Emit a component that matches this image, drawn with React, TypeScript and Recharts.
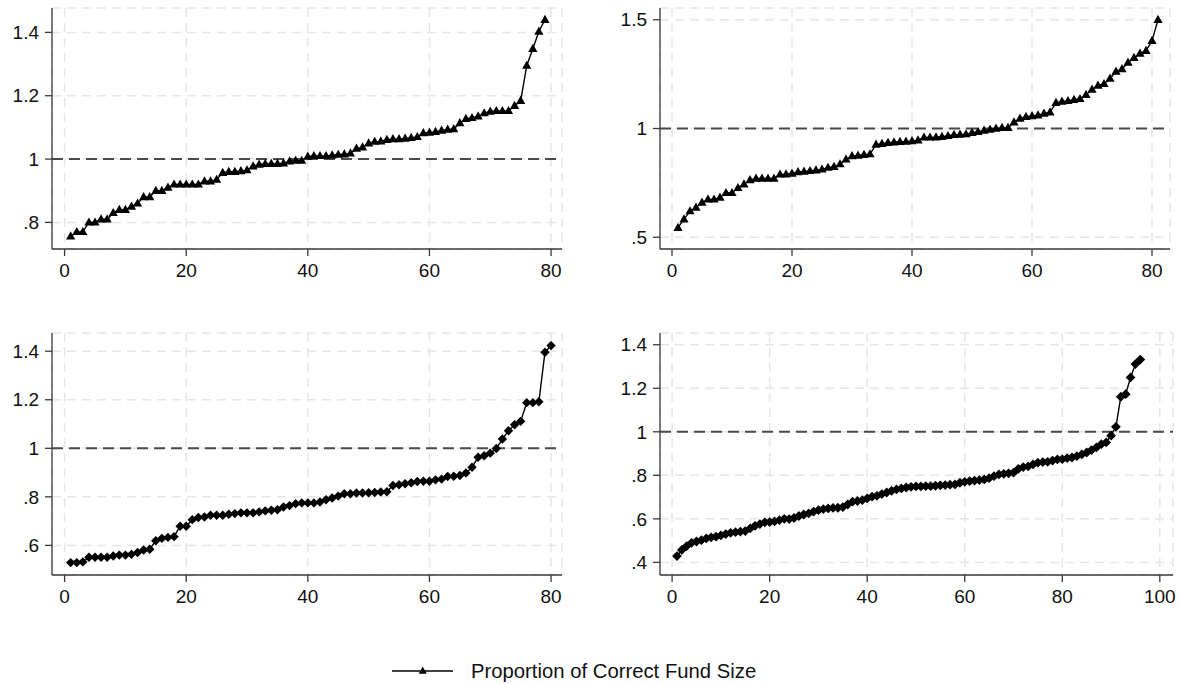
import React from 'react';
import { LineChart, Line, XAxis, YAxis, CartesianGrid, ReferenceLine } from 'recharts';

// sorted ratios, one array per panel (x = rank 1..n)
const panelA = [
    0.756, 0.77, 0.77, 0.8, 0.8, 0.81, 0.81, 0.83, 0.84, 0.84,
    0.85, 0.86, 0.88, 0.88, 0.9, 0.9, 0.91, 0.92, 0.92, 0.92,
    0.92, 0.92, 0.93, 0.93, 0.935, 0.957, 0.96, 0.96, 0.962, 0.965,
    0.977, 0.983, 0.985, 0.985, 0.985, 0.987, 0.993, 0.995, 0.995, 1.008,
    1.01, 1.01, 1.01, 1.012, 1.014, 1.015, 1.018, 1.033, 1.037, 1.05,
    1.055, 1.056, 1.061, 1.063, 1.063, 1.065, 1.067, 1.07, 1.082, 1.084,
    1.086, 1.09, 1.093, 1.095, 1.114, 1.127, 1.13, 1.135, 1.145, 1.15,
    1.152, 1.152, 1.152, 1.168, 1.184, 1.295, 1.348, 1.403, 1.44
];

const panelB = [
    0.544, 0.583, 0.62, 0.637, 0.66, 0.674, 0.674, 0.683, 0.704, 0.704,
    0.727, 0.744, 0.763, 0.77, 0.77, 0.77, 0.77, 0.789, 0.79, 0.793,
    0.8, 0.802, 0.805, 0.808, 0.812, 0.82, 0.824, 0.836, 0.858, 0.873,
    0.876, 0.879, 0.882, 0.926, 0.93, 0.934, 0.937, 0.939, 0.94, 0.942,
    0.946, 0.959, 0.959, 0.96, 0.962, 0.966, 0.971, 0.972, 0.974, 0.98,
    0.985, 0.991, 0.995, 1.0, 1.003, 1.003, 1.029, 1.046, 1.054, 1.057,
    1.061, 1.069, 1.075, 1.118, 1.124, 1.127, 1.132, 1.136, 1.155, 1.179,
    1.198, 1.205, 1.23, 1.262, 1.273, 1.303, 1.325, 1.345, 1.357, 1.403,
    1.5
];

const panelC = [
    0.529, 0.529, 0.532, 0.551, 0.551, 0.551, 0.551, 0.556, 0.56, 0.56,
    0.563, 0.571, 0.581, 0.584, 0.619, 0.629, 0.633, 0.636, 0.679, 0.679,
    0.706, 0.715, 0.717, 0.724, 0.724, 0.724, 0.728, 0.731, 0.734, 0.734,
    0.734, 0.738, 0.742, 0.745, 0.747, 0.758, 0.764, 0.772, 0.775, 0.775,
    0.775, 0.779, 0.788, 0.795, 0.803, 0.813, 0.813, 0.816, 0.816, 0.817,
    0.818, 0.82, 0.821, 0.847, 0.85, 0.854, 0.858, 0.863, 0.864, 0.864,
    0.87, 0.873, 0.884, 0.885, 0.888, 0.898, 0.922, 0.963, 0.969, 0.98,
    0.999, 1.038, 1.072, 1.097, 1.111, 1.188, 1.188, 1.192, 1.396, 1.423
];

const panelD = [
    0.429, 0.457, 0.475, 0.49, 0.496, 0.502, 0.51, 0.515, 0.518, 0.524,
    0.53, 0.536, 0.539, 0.541, 0.544, 0.556, 0.568, 0.576, 0.584, 0.585,
    0.588, 0.594, 0.6, 0.599, 0.604, 0.613, 0.62, 0.625, 0.633, 0.64,
    0.645, 0.648, 0.65, 0.651, 0.654, 0.666, 0.679, 0.682, 0.686, 0.694,
    0.702, 0.706, 0.714, 0.721, 0.729, 0.735, 0.74, 0.744, 0.747, 0.749,
    0.749, 0.75, 0.75, 0.752, 0.754, 0.755, 0.757, 0.758, 0.766, 0.77,
    0.773, 0.776, 0.778, 0.781, 0.787, 0.796, 0.804, 0.807, 0.809, 0.812,
    0.83, 0.838, 0.841, 0.85, 0.858, 0.861, 0.862, 0.868, 0.873, 0.874,
    0.879, 0.882, 0.888, 0.896, 0.905, 0.916, 0.928, 0.943, 0.951, 0.982,
    1.023, 1.161, 1.173, 1.25, 1.311, 1.332
];

const xTicks80 = [0, 20, 40, 60, 80];
const xTicks100 = [0, 20, 40, 60, 80, 100];
const yTicksA = [0.8, 1, 1.2, 1.4];
const yTicksB = [0.5, 1, 1.5];
const yTicksC = [0.6, 0.8, 1, 1.2, 1.4];
const yTicksD = [0.4, 0.6, 0.8, 1, 1.2, 1.4];

const legendLabel = 'Proportion of Correct Fund Size';

const FONT = '"Liberation Sans", Arial, sans-serif';
const tickStyle = { fill: '#111', fontSize: 19, fontFamily: FONT };

// stata-ish labels: .8, 1, 1.2
const fmtY = (v: number) => {
    const s = String(Number(v.toFixed(1)));
    return s.startsWith('0.') ? s.slice(1) : s;
};

const Triangle = (props: any) => {
    const { cx, cy, index } = props;
    if (cx == null || cy == null) return <g key={`t-${index}`} />;
    return (
        <polygon
            key={`t-${index}`}
            points={`${cx},${cy - 5} ${cx - 4.6},${cy + 3.2} ${cx + 4.6},${cy + 3.2}`}
            fill="#000"
        />
    );
};

const makeDiamond = (r: number) => (props: any) => {
    const { cx, cy, index } = props;
    if (cx == null || cy == null) return <g key={`d-${index}`} />;
    return (
        <polygon
            key={`d-${index}`}
            points={`${cx},${cy - r} ${cx + r},${cy} ${cx},${cy + r} ${cx - r},${cy}`}
            fill="#000"
        />
    );
};

interface PanelProps {
    values: number[];
    left: number;
    top: number;
    width: number;
    yWidth: number;
    right: number;
    xAxisHeight: number;
    xDomain: [number, number];
    yDomain: [number, number];
    xTicks: number[];
    yTicks: number[];
    dot: (p: any) => React.ReactElement;
}

const Panel: React.FC<PanelProps> = (p) => {
    const data = p.values.map((v, i) => ({ x: i + 1, y: v }));
    return (
        <div style={{ position: 'absolute', left: p.left, top: p.top }}>
            <LineChart
                width={p.width}
                height={300}
                data={data}
                margin={{ top: 8, right: p.right, left: 0, bottom: 0 }}
            >
                <CartesianGrid stroke="#e6e6e6" strokeWidth={1.5} strokeDasharray="9 6" />
                <XAxis
                    type="number"
                    dataKey="x"
                    domain={p.xDomain}
                    ticks={p.xTicks}
                    allowDataOverflow
                    height={p.xAxisHeight}
                    stroke="#3a3a3a"
                    strokeWidth={1.3}
                    tickSize={7}
                    tickMargin={8}
                    tick={tickStyle}
                    interval={0}
                />
                <YAxis
                    type="number"
                    domain={p.yDomain}
                    ticks={p.yTicks}
                    allowDataOverflow
                    width={p.yWidth}
                    stroke="#3a3a3a"
                    strokeWidth={1.3}
                    tickSize={7}
                    tickMargin={6}
                    tick={tickStyle}
                    tickFormatter={fmtY}
                    interval={0}
                />
                <ReferenceLine y={1} stroke="#4a4a4a" strokeWidth={2} strokeDasharray="11 6" />
                <Line
                    type="linear"
                    dataKey="y"
                    stroke="#000"
                    strokeWidth={1.4}
                    dot={p.dot}
                    activeDot={false}
                    isAnimationActive={false}
                />
            </LineChart>
        </div>
    );
};

export default function App() {
    return (
        <div
            style={{
                position: 'absolute',
                left: 0,
                top: 0,
                width: 1180,
                height: 684,
                background: '#fff',
                fontFamily: FONT,
                overflow: 'hidden'
            }}
        >
            <Panel values={panelA} left={0} top={0} width={580} yWidth={52} right={18}
                xAxisHeight={51} xDomain={[-2.07, 81.8]} yDomain={[0.716, 1.477]}
                xTicks={xTicks80} yTicks={yTicksA} dot={Triangle} />
            <Panel values={panelB} left={590} top={0} width={590} yWidth={70} right={10}
                xAxisHeight={51} xDomain={[-2.0, 83.0]} yDomain={[0.446, 1.554]}
                xTicks={xTicks80} yTicks={yTicksB} dot={Triangle} />
            <Panel values={panelC} left={0} top={325} width={580} yWidth={52} right={18}
                xAxisHeight={50} xDomain={[-2.07, 81.8]} yDomain={[0.478, 1.475]}
                xTicks={xTicks80} yTicks={yTicksC} dot={makeDiamond(4.7)} />
            <Panel values={panelD} left={590} top={325} width={590} yWidth={70} right={7}
                xAxisHeight={50} xDomain={[-2.48, 102.7]} yDomain={[0.342, 1.454]}
                xTicks={xTicks100} yTicks={yTicksD} dot={makeDiamond(4.9)} />

            {/* shared legend */}
            <div style={{ position: 'absolute', left: 390, top: 658, height: 26, display: 'flex', alignItems: 'center' }}>
                <svg width={66} height={26}>
                    <line x1={2} y1={13} x2={63} y2={13} stroke="#000" strokeWidth={1.5} />
                    <polygon points="32.7,8.5 28.7,15.8 36.7,15.8" fill="#000" />
                </svg>
                <span style={{ marginLeft: 15, fontSize: 20.3, color: '#111', whiteSpace: 'nowrap' }}>
                    {legendLabel}
                </span>
            </div>
        </div>
    );
}
